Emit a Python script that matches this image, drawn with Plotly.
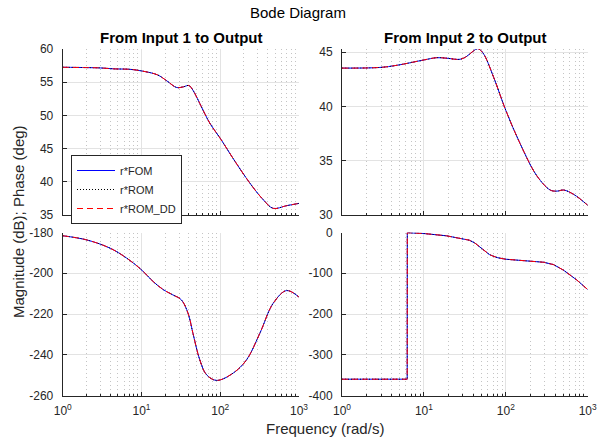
import plotly.graph_objects as go

# ---------------- data ----------------
w_mag1 = [1, 2, 3, 4.6, 7, 10, 16, 21, 28, 34, 40, 45, 50, 55, 74, 100, 146, 238, 352, 471, 694, 1000]
mag1 = [57.25, 57.2, 57.15, 57.0, 56.95, 56.7, 56.1, 55.2, 54.2, 54.3, 54.5, 53.8, 52.8, 51.8, 48.8, 46.55,
        43.5, 39.8, 37.3, 36.0, 36.4, 36.75]

w_mag2 = [1, 2.9, 4.7, 10, 14.4, 19, 27.6, 33, 40, 45.6, 53, 71, 100, 150, 240, 349, 420, 509, 675, 1000]
mag2 = [43.54, 43.6, 43.8, 44.29, 44.5, 44.45, 44.35, 44.6, 45.1, 45.33, 44.9, 42.7, 39.65, 36.56, 33.6,
        32.3, 32.2, 32.3, 31.9, 30.9]

w_ph1 = [1, 2, 4, 6.5, 10, 14, 19, 25, 32, 39, 45, 55, 67, 90, 146, 216, 319, 471, 696, 1000]
ph1 = [-181.6, -183.6, -187.7, -192.6, -198.3, -204, -208.1, -210.6, -213, -219.6, -229.4, -242.5, -249.8,
       -252.6, -249, -242.5, -229.4, -214.7, -208.5, -211.7]

w_ph2 = [1, 3, 6.25, 6.27, 10, 19, 30, 36, 42, 48, 55, 63, 70, 80, 100, 165, 290, 383, 509, 741, 1000]
ph2 = [-360, -360, -360, -0.5, -2.5, -8.2, -15, -19, -26, -35, -45, -54, -58, -62, -65.6, -69.8, -73,
       -78.8, -92.7, -117, -140]

series = ["r*FOM", "r*ROM", "r*ROM_DD"]
colors = ["#0000ff", "#000000", "#ff0000"]
dashes = ["solid", "1px,2px", "6px,4px"]

xticks = [1, 10, 100, 1000]
xticktext = ["10<sup>0</sup>", "10<sup>1</sup>", "10<sup>2</sup>", "10<sup>3</sup>"]
yticks_mag1 = [35, 40, 45, 50, 55, 60]
yticks_mag2 = [30, 35, 40, 45]
yticks_ph1 = [-260, -240, -220, -200, -180]
yticks_ph2 = [-400, -300, -200, -100, 0]

# ---------------- figure ----------------
W, H = 597, 445
fig = go.Figure()

panels = [
    ("x", "y", w_mag1, mag1, True),
    ("x2", "y2", w_mag2, mag2, False),
    ("x3", "y3", w_ph1, ph1, False),
    ("x4", "y4", w_ph2, ph2, False),
]
for xa, ya, wx, vy, show in panels:
    for name, c, d in zip(series, colors, dashes):
        shape = "linear" if xa == "x4" else "spline"
        fig.add_trace(go.Scatter(
            x=wx, y=vy, name=name, mode="lines", xaxis=xa, yaxis=ya,
            line=dict(color=c, dash=d, width=1, shape=shape),
            showlegend=show,
        ))

FONT = "Liberation Sans, Arial, Helvetica, sans-serif"
TC = "#262626"


def px_x(p):
    return p / W


def px_y(p):
    return 1 - p / H


xdom_l = [px_x(62.7), px_x(299)]
xdom_r = [px_x(342), px_x(587.7)]
ydom_t = [px_y(215), px_y(49)]
ydom_b = [px_y(395.5), px_y(232.5)]


def xaxis(dom, anchor, labels):
    return dict(
        type="log", domain=dom, anchor=anchor, range=[-0.0002, 3.0002], automargin=False,
        tickmode="array", tickvals=xticks, ticktext=xticktext, showticklabels=labels,
        ticklabeloverflow="allow",
        showgrid=True, gridcolor="#e3e3e3", gridwidth=1,
        minor=dict(showgrid=True, gridcolor="#c4c4c4", griddash="1px,3px", gridwidth=1,
                   ticks="inside", ticklen=2, tickcolor=TC, dtick="D1"),
        ticks="inside", ticklen=4, tickcolor=TC, ticklabelstandoff=4,
        showline=True, linecolor=TC, linewidth=1, mirror=False,
        zeroline=False, tickfont=dict(size=12, color=TC, family=FONT),
    )


def yaxis(dom, anchor, rng, tv):
    return dict(
        domain=dom, anchor=anchor, range=rng, automargin=False,
        tickmode="array", tickvals=tv, ticktext=[str(v) for v in tv],
        ticklabeloverflow="allow",
        showgrid=True, gridcolor="#e3e3e3", gridwidth=1,
        ticks="inside", ticklen=4, tickcolor=TC, ticklabelstandoff=6,
        showline=True, linecolor=TC, linewidth=1, mirror=False,
        zeroline=False, tickfont=dict(size=12, color=TC, family=FONT),
    )


fig.update_layout(
    template="none",
    width=W, height=H, margin=dict(l=0, r=0, t=0, b=0, pad=0), autosize=False,
    paper_bgcolor="white", plot_bgcolor="white",
    font=dict(family=FONT, color=TC),
    xaxis=xaxis(xdom_l, "y", False),
    xaxis2=xaxis(xdom_r, "y2", False),
    xaxis3=xaxis(xdom_l, "y3", True),
    xaxis4=xaxis(xdom_r, "y4", True),
    yaxis=yaxis(ydom_t, "x", [35, 60], yticks_mag1),
    yaxis2=yaxis(ydom_t, "x2", [30, 45.3], yticks_mag2),
    yaxis3=yaxis(ydom_b, "x3", [-260, -180], yticks_ph1),
    yaxis4=yaxis(ydom_b, "x4", [-400, 0], yticks_ph2),
    legend=dict(
        x=px_x(71), y=px_y(155), xanchor="left", yanchor="top",
        bgcolor="white", bordercolor=TC, borderwidth=1,
        font=dict(size=11, color=TC, family=FONT),
        itemwidth=38, tracegroupgap=0,
    ),
    showlegend=True,
)

ann = [
    dict(text="Bode Diagram", x=px_x(298), y=px_y(12), font=dict(size=15, color="#000000")),
    dict(text="<b>From Input 1 to Output</b>", x=px_x(181), y=px_y(37), font=dict(size=15, color="#000000")),
    dict(text="<b>From Input 2 to Output</b>", x=px_x(465), y=px_y(37), font=dict(size=15, color="#000000")),
    dict(text="Frequency (rad/s)", x=px_x(325), y=px_y(428), font=dict(size=15, color=TC)),
    dict(text="Magnitude (dB); Phase (deg)", x=px_x(18), y=px_y(222), textangle=-90,
         font=dict(size=15, color=TC)),
]
for a in ann:
    a.update(xref="paper", yref="paper", showarrow=False, xanchor="center", yanchor="middle")
    a["font"]["family"] = FONT
fig.update_layout(annotations=ann)

fig.write_html("out.html")
